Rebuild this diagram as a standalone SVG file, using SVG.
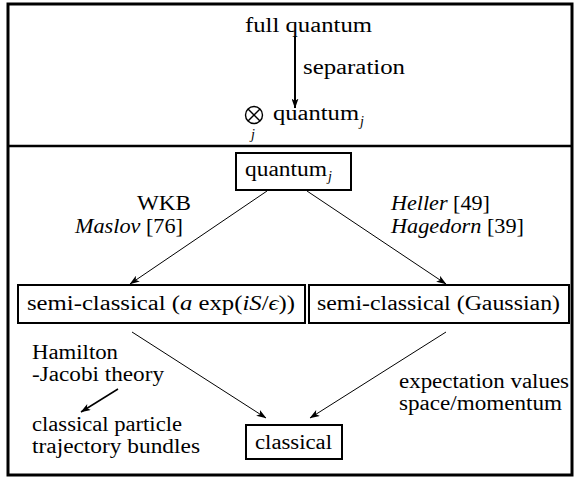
<svg xmlns="http://www.w3.org/2000/svg" width="574" height="478" viewBox="0 0 574 478">
<defs>
<style>
text{font-family:"Liberation Serif","DejaVu Serif",serif;font-size:20px;fill:#000}
.it{font-style:italic}
.sub{font-size:14px;font-style:italic}
.box{fill:#fff;stroke:#000;stroke-width:2}
.edge{stroke:#000;stroke-width:1;fill:none;marker-end:url(#ah)}
</style>
<marker id="ah" viewBox="0 0 10 7" refX="9.5" refY="3.5" markerWidth="10" markerHeight="7" markerUnits="userSpaceOnUse" orient="auto">
<path d="M0,0 L10,3.5 L0,7 L2.5,3.5 Z" fill="#000"/>
</marker>
</defs>
<rect x="0" y="0" width="574" height="478" fill="#fff"/>
<g id="frame">
<rect x="8" y="4" width="564" height="471" fill="none" stroke="#000" stroke-width="3"/>
<line x1="8" y1="146" x2="572" y2="146" stroke="#000" stroke-width="2.6"/>
</g>
<g id="connectors">
<line x1="295" y1="36" x2="295" y2="108" stroke="#000" stroke-width="2" marker-end="url(#ah)"/>
<line class="edge" x1="267" y1="191" x2="130" y2="284"/>
<line class="edge" x1="307" y1="191" x2="446" y2="284"/>
<line class="edge" x1="132" y1="332" x2="266" y2="418"/>
<line class="edge" x1="446" y1="332" x2="310" y2="418"/>
<line class="edge" style="stroke-width:1.5" x1="118" y1="389" x2="81" y2="412"/>
</g>
<g id="full-quantum">
<text x="245" y="32" textLength="127" lengthAdjust="spacingAndGlyphs">full quantum</text>
</g>
<g id="separation-label">
<text x="303" y="74" textLength="102" lengthAdjust="spacingAndGlyphs">separation</text>
</g>
<g id="tensor-quantum">
<circle cx="254" cy="115" r="8.5" fill="none" stroke="#000" stroke-width="1.4"/>
<line x1="248" y1="109" x2="260" y2="121" stroke="#000" stroke-width="1.4"/>
<line x1="260" y1="109" x2="248" y2="121" stroke="#000" stroke-width="1.4"/>
<text class="sub" x="251" y="139">j</text>
<text x="273" y="120" textLength="86" lengthAdjust="spacingAndGlyphs">quantum</text>
<text class="sub" x="360" y="126">j</text>
</g>
<g id="quantum-j">
<rect class="box" x="236" y="153" width="115" height="37"/>
<text x="245" y="176" textLength="82" lengthAdjust="spacingAndGlyphs">quantum</text>
<text class="sub" x="328" y="181">j</text>
</g>
<g id="wkb-label">
<text x="137" y="210" textLength="54" lengthAdjust="spacingAndGlyphs">WKB</text>
<text x="75" y="233" textLength="108" lengthAdjust="spacingAndGlyphs"><tspan class="it">Maslov</tspan> [76]</text>
</g>
<g id="heller-label">
<text x="391" y="210" textLength="99" lengthAdjust="spacingAndGlyphs"><tspan class="it">Heller</tspan> [49]</text>
<text x="391" y="233" textLength="133" lengthAdjust="spacingAndGlyphs"><tspan class="it">Hagedorn</tspan> [39]</text>
</g>
<g id="semi-wkb">
<rect class="box" x="18" y="285" width="287" height="38"/>
<text x="27" y="310" textLength="268" lengthAdjust="spacingAndGlyphs">semi-classical (<tspan class="it">a</tspan> exp(<tspan class="it">iS</tspan>/<tspan class="it">ϵ</tspan>))</text>
</g>
<g id="semi-gauss">
<rect class="box" x="309" y="285" width="260" height="38"/>
<text x="317" y="310" textLength="243" lengthAdjust="spacingAndGlyphs">semi-classical (Gaussian)</text>
</g>
<g id="hamilton-label">
<text x="32" y="359" textLength="86" lengthAdjust="spacingAndGlyphs">Hamilton</text>
<text x="32" y="381" textLength="132" lengthAdjust="spacingAndGlyphs">-Jacobi theory</text>
</g>
<g id="classical-particle">
<text x="32" y="431" textLength="150" lengthAdjust="spacingAndGlyphs">classical particle</text>
<text x="32" y="453" textLength="168" lengthAdjust="spacingAndGlyphs">trajectory bundles</text>
</g>
<g id="expectation-label">
<text x="399" y="388" textLength="170" lengthAdjust="spacingAndGlyphs">expectation values</text>
<text x="399" y="410" textLength="163" lengthAdjust="spacingAndGlyphs">space/momentum</text>
</g>
<g id="classical">
<rect class="box" x="246" y="425" width="96" height="34"/>
<text x="255" y="449" textLength="77" lengthAdjust="spacingAndGlyphs">classical</text>
</g>
</svg>
